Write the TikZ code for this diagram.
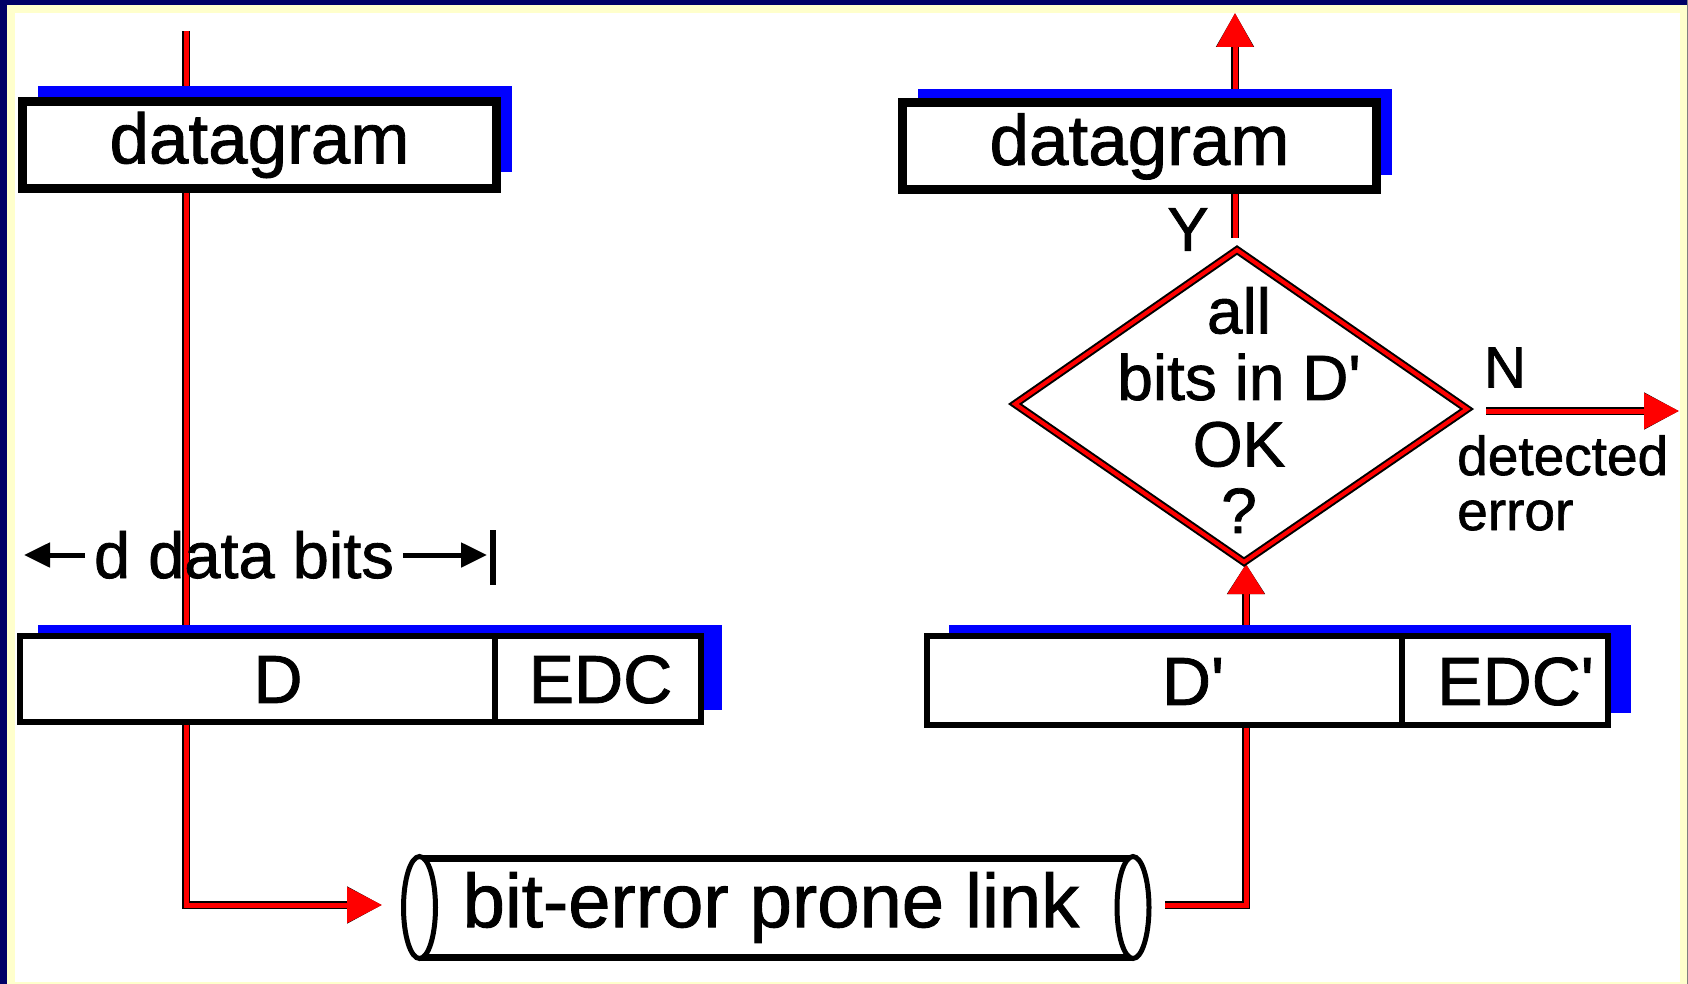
\documentclass[tikz,border=0pt]{standalone}
\usepackage{fontspec}
\setmainfont[FakeBold=1.2]{Liberation Sans}
\usetikzlibrary{arrows.meta}
\definecolor{rd}{RGB}{255,0,0}
\definecolor{bl}{RGB}{0,0,255}
\definecolor{navy}{RGB}{0,0,102}
\definecolor{pale}{RGB}{255,255,204}
\newcommand\fsz[2]{\fontsize{#1}{#2}\selectfont}
\begin{document}
\begin{tikzpicture}[x=1pt,y=-1pt,
  redline/.style={draw=rd,line width=5pt,line join=miter,preaction={draw=black,line width=8pt}},
  blkarrow/.style={draw=black,line width=5pt,-{Triangle[length=26pt,width=24pt]}},
  shadowfill/.style={fill=bl},
  dgbox/.style={draw=black,fill=white,line width=9pt,minimum width=474pt,minimum height=87pt,inner sep=0pt,font=\fsz{71}{71}},
  cell/.style={draw=black,fill=white,line width=6pt,minimum height=86pt,inner sep=0pt},
  celltext/.style={font=\fsz{68}{68},inner sep=0pt},
  plain/.style={inner sep=0pt}
]
% frame
\useasboundingbox (0,0) rectangle (1688,984);
\fill[pale] (0,0) rectangle (1688,984);
\fill[navy] (0,0) rectangle (1688,5);
\fill[navy] (0,0) rectangle (7,984);
\fill[gray] (1686.5,0) rectangle (1688,984);
\fill[white] (15,13) rectangle (1680,982);

% coordinates
\coordinate (topL) at (186,31);
\coordinate (cornerL) at (186,905);
\coordinate (linkIn) at (382,905);
\coordinate (linkOut) at (1165,905);
\coordinate (cornerR) at (1246,905);
\coordinate (dBot) at (1246,564);
\coordinate (yStart) at (1235,238);
\coordinate (outTop) at (1235,13);
\coordinate (nStart) at (1486,411);
\coordinate (nEnd) at (1679,411);
\coordinate (dT) at (1237,250);
\coordinate (dR) at (1467,409);
\coordinate (dB) at (1244,562);
\coordinate (dL) at (1015,404);

% connectors (behind boxes)
\draw[redline,-{Triangle[length=35pt,width=35pt]}] (topL) -- (cornerL) -- (linkIn);
\draw[redline,-{Triangle[length=30pt,width=36pt]}] (linkOut) -- (cornerR) -- (dBot);
\draw[redline,-{Triangle[length=34pt,width=36pt]}] (yStart) -- (outTop);
\draw[redline,-{Triangle[length=35pt,width=35pt]}] (nStart) -- (nEnd);

% shadows
\fill[shadowfill] (37.5,86) rectangle (512,172);
\fill[shadowfill] (917.5,89) rectangle (1392,175);
\fill[shadowfill] (38,625) rectangle (722,710);
\fill[shadowfill] (949,625) rectangle (1631,713);

% datagram boxes
\node[dgbox] (dgL) at (259.5,145) {datagram};
\node[dgbox] (dgR) at (1139.5,146.5) {datagram};

% D / EDC frame
\node[cell,minimum width=475.5pt] (cD) at (257.25,679) {};
\node[cell,minimum width=206pt] (cEDC) at (598,679) {};
\node[celltext] (tD) at (278,679.5) {D};
\node[celltext] (tEDC) at (600.5,679.5) {EDC};

% D' / EDC' frame
\node[cell,minimum width=475pt,minimum height=89pt] (cDp) at (1164.5,680.5) {};
\node[cell,minimum width=206pt,minimum height=89pt] (cEDCp) at (1505,680.5) {};
\node[celltext] (tDp) at (1193,681.5) {D\textquotesingle};
\node[celltext] (tEDCp) at (1515.5,681.5) {EDC\textquotesingle};

% d data bits
\node[inner xsep=9pt,inner ysep=0pt,outer sep=0pt,font=\fsz{65}{65},anchor=base] (dbits) at (244,578) {d data bits};
\coordinate (dbArrL) at (24,555);
\coordinate (dbArrR) at (487,555);
\coordinate (dbBarTop) at (493,530);
\coordinate (dbBarBot) at (493,585);
\draw[blkarrow] (dbits.west |- dbArrL) -- (dbArrL);
\draw[blkarrow] (dbits.east |- dbArrR) -- (dbArrR);
\draw[line width=6pt] (dbBarTop) -- (dbBarBot);

% decision diamond
\draw[line width=8pt,line join=miter,draw=black,preaction={fill=white},postaction={draw=rd,line width=4pt}]
  (dT) -- (dR) -- (dB) -- (dL) -- cycle;
\node[plain,align=center,font=\fsz{64}{66.5}] (check) at (1239,410) {all\\bits in D\textquotesingle\\OK\\?};
\node[plain,font=\fsz{62}{62}] (lblY) at (1188,229.5) {Y};
\node[plain,font=\fsz{58}{58}] (lblN) at (1505,367.5) {N};
\node[plain,align=left,anchor=north west,font=\fsz{55}{55}] (deterr) at (1457,435) {detected\\error};

% bit-error prone link (cylinder)
\fill[white] (419.5,858) rectangle (1133,957);
\draw[line width=7pt] (419.5,858.5) -- (1133,858.5);
\draw[line width=7pt] (419.5,957.5) -- (1133,957.5);
\draw[line width=5pt,fill=white] (419.5,907.5) ellipse [x radius=16pt,y radius=51pt];
\draw[line width=5pt,fill=white] (1133,907.5) ellipse [x radius=16pt,y radius=51pt];
\node[plain,font=\fsz{76}{76}] (link) at (771,907.5) {bit-error prone link};
\end{tikzpicture}
\end{document}
